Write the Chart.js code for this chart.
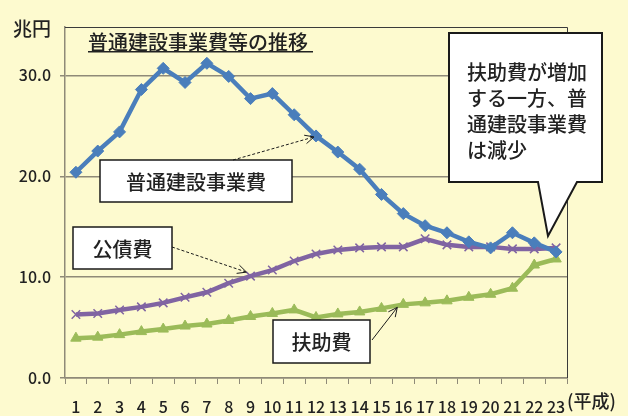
<!DOCTYPE html>
<html>
<head>
<meta charset="utf-8">
<script src="https://cdn.jsdelivr.net/npm/chart.js@4/dist/chart.umd.min.js"></script>
<style>
  html, body { margin: 0; padding: 0; background: #fdfacf; }
  #wrap { width: 628px; height: 416px; position: relative; }
</style>
</head>
<body>
<div id="wrap"><canvas id="myChart" width="628" height="416"></canvas></div>
<script>
// les données (兆円, 平成1〜23年度)
var annees = ['1','2','3','4','5','6','7','8','9','10','11','12','13','14','15','16','17','18','19','20','21','22','23'];
var futsuKensetsu = [20.4, 22.5, 24.4, 28.6, 30.7, 29.3, 31.2, 29.9, 27.7, 28.2, 26.1, 24.0, 22.4, 20.7, 18.2, 16.3, 15.1, 14.4, 13.5, 12.9, 14.4, 13.4, 12.5];
var kousaihi = [6.3, 6.4, 6.75, 7.05, 7.45, 8.0, 8.5, 9.4, 10.1, 10.7, 11.6, 12.3, 12.7, 12.9, 13.0, 13.0, 13.8, 13.2, 13.0, 13.0, 12.8, 12.8, 12.9];
var fujohi = [3.95, 4.05, 4.3, 4.6, 4.85, 5.15, 5.35, 5.7, 6.1, 6.4, 6.75, 6.0, 6.35, 6.55, 6.9, 7.3, 7.45, 7.65, 8.0, 8.3, 8.9, 11.2, 11.8];
var yTicks = [0, 10, 20, 30];

var police = "'Noto Sans CJK JP', 'Noto Sans', sans-serif";
var texte = '#222222';

// flèche avec pointe ouverte
function fleche(ctx, x1, y1, x2, y2, pointille) {
    ctx.save();
    ctx.strokeStyle = '#1a1a1a';
    ctx.lineWidth = 1;
    if (pointille) ctx.setLineDash([3, 2]);
    ctx.beginPath();
    ctx.moveTo(x1, y1);
    ctx.lineTo(x2, y2);
    ctx.stroke();
    ctx.setLineDash([]);
    var a = Math.atan2(y2 - y1, x2 - x1);
    ctx.beginPath();
    ctx.moveTo(x2 - 10 * Math.cos(a - 0.45), y2 - 10 * Math.sin(a - 0.45));
    ctx.lineTo(x2, y2);
    ctx.lineTo(x2 - 10 * Math.cos(a + 0.45), y2 - 10 * Math.sin(a + 0.45));
    ctx.stroke();
    ctx.restore();
}

function boite(ctx, x, y, w, h, label) {
    ctx.save();
    ctx.fillStyle = '#ffffff';
    ctx.strokeStyle = '#1a1a1a';
    ctx.lineWidth = 1.5;
    ctx.fillRect(x, y, w, h);
    ctx.strokeRect(x, y, w, h);
    ctx.fillStyle = texte;
    ctx.font = '500 20px ' + police;
    ctx.textAlign = 'center';
    ctx.textBaseline = 'middle';
    ctx.fillText(label, x + w / 2, y + h / 2 + 1);
    ctx.restore();
}

// annotations
var annotations = {
    id: 'annotations',
    beforeDatasetsDraw: function (chart) {
        var ctx = chart.ctx, a = chart.chartArea;
        ctx.save();
        ctx.strokeStyle = '#3a3a3a';
        ctx.lineWidth = 1;
        ctx.beginPath();
        ctx.moveTo(a.left, a.top + 0.5);
        ctx.lineTo(a.right + 0.5, a.top + 0.5);
        ctx.lineTo(a.right + 0.5, a.bottom);
        ctx.stroke();
        ctx.restore();
    },
    afterDraw: function (chart) {
        var ctx = chart.ctx;
        var x = chart.scales.x, y = chart.scales.y;

        // titres
        ctx.save();
        ctx.fillStyle = texte;
        ctx.font = '500 19px ' + police;
        ctx.textBaseline = 'middle';
        ctx.fillText('兆円', 13, 29);
        ctx.font = '500 20px ' + police;
        ctx.fillText('普通建設事業費等の推移', 88, 42);
        ctx.fillRect(88, 51, 225, 1.5);
        ctx.font = '500 18px ' + police;
        ctx.fillText('(平成)', 567, 401);
        ctx.restore();

        // boîtes et flèches
        boite(ctx, 100, 160, 192, 42, '普通建設事業費');
        fleche(ctx, 233, 160, x.getPixelForValue(11) - 2, y.getPixelForValue(futsuKensetsu[11]) + 1, true);
        boite(ctx, 73, 227, 99, 42, '公債費');
        fleche(ctx, 172, 247, x.getPixelForValue(8) - 4, y.getPixelForValue(kousaihi[8]) - 4, true);
        boite(ctx, 273, 320, 97, 43, '扶助費');
        fleche(ctx, 372, 340, x.getPixelForValue(15) - 6, y.getPixelForValue(fujohi[15]) + 3, false);

        // bulle
        ctx.save();
        ctx.fillStyle = '#ffffff';
        ctx.strokeStyle = '#1a1a1a';
        ctx.lineWidth = 2;
        ctx.beginPath();
        ctx.moveTo(449, 33);
        ctx.lineTo(602, 33);
        ctx.lineTo(602, 182);
        ctx.lineTo(577, 182);
        ctx.lineTo(548, 236);
        ctx.lineTo(538, 182);
        ctx.lineTo(449, 182);
        ctx.closePath();
        ctx.fill();
        ctx.stroke();
        ctx.fillStyle = texte;
        ctx.font = '500 20px ' + police;
        ctx.textBaseline = 'middle';
        var lignes = ['扶助費が増加', 'する一方、普', '通建設事業費', 'は減少'];
        for (var i = 0; i < lignes.length; i++) {
            ctx.fillText(lignes[i], 467, 72 + i * 26);
        }
        ctx.restore();
    }
};

var ctx = document.getElementById('myChart').getContext('2d');
var chart = new Chart(ctx, {
    type: 'line',
    data: {
        labels: annees,
        datasets: [{
            label: '普通建設事業費',
            data: futsuKensetsu,
            borderColor: '#4a7ebb',
            backgroundColor: '#4a7ebb',
            borderWidth: 4.5,
            pointStyle: 'rectRot',
            pointRadius: 6,
            pointBorderWidth: 1
        }, {
            label: '公債費',
            data: kousaihi,
            borderColor: '#8064a2',
            backgroundColor: '#8064a2',
            borderWidth: 4.5,
            pointStyle: 'crossRot',
            pointRadius: 6,
            pointBorderWidth: 1.5
        }, {
            label: '扶助費',
            data: fujohi,
            borderColor: '#9bbb59',
            backgroundColor: '#9bbb59',
            borderWidth: 4.5,
            pointStyle: 'triangle',
            pointRadius: 6,
            pointBorderWidth: 1
        }]
    },
    options: {
        responsive: false,
        animation: false,
        layout: { padding: { left: 0, top: 27, right: 61, bottom: 0 } },
        plugins: {
            legend: { display: false },
            tooltip: { enabled: false }
        },
        scales: {
            x: {
                offset: true,
                grid: { drawOnChartArea: false, drawTicks: true, tickLength: 6, color: '#8f8a78', offset: true },
                border: { color: '#8f8a78', width: 1.5 },
                ticks: { color: texte, font: { family: police, size: 16, weight: '500' }, padding: 13, maxRotation: 0, autoSkip: false },
                afterFit: function (s) { s.height = 38; }
            },
            y: {
                min: 0,
                max: 34.8,
                afterBuildTicks: function (s) {
                    s.ticks = yTicks.map(function (v) { return { value: v }; });
                },
                grid: { color: '#8f8a78', lineWidth: 1.5, tickLength: 5 },
                border: { color: '#8f8a78', width: 1.5 },
                ticks: {
                    color: texte,
                    font: { family: police, size: 16, weight: '500' },
                    padding: 9,
                    callback: function (v) { return v.toFixed(1); }
                },
                afterFit: function (s) { s.width = 65; }
            }
        }
    },
    plugins: [annotations]
});
</script>
</body>
</html>
